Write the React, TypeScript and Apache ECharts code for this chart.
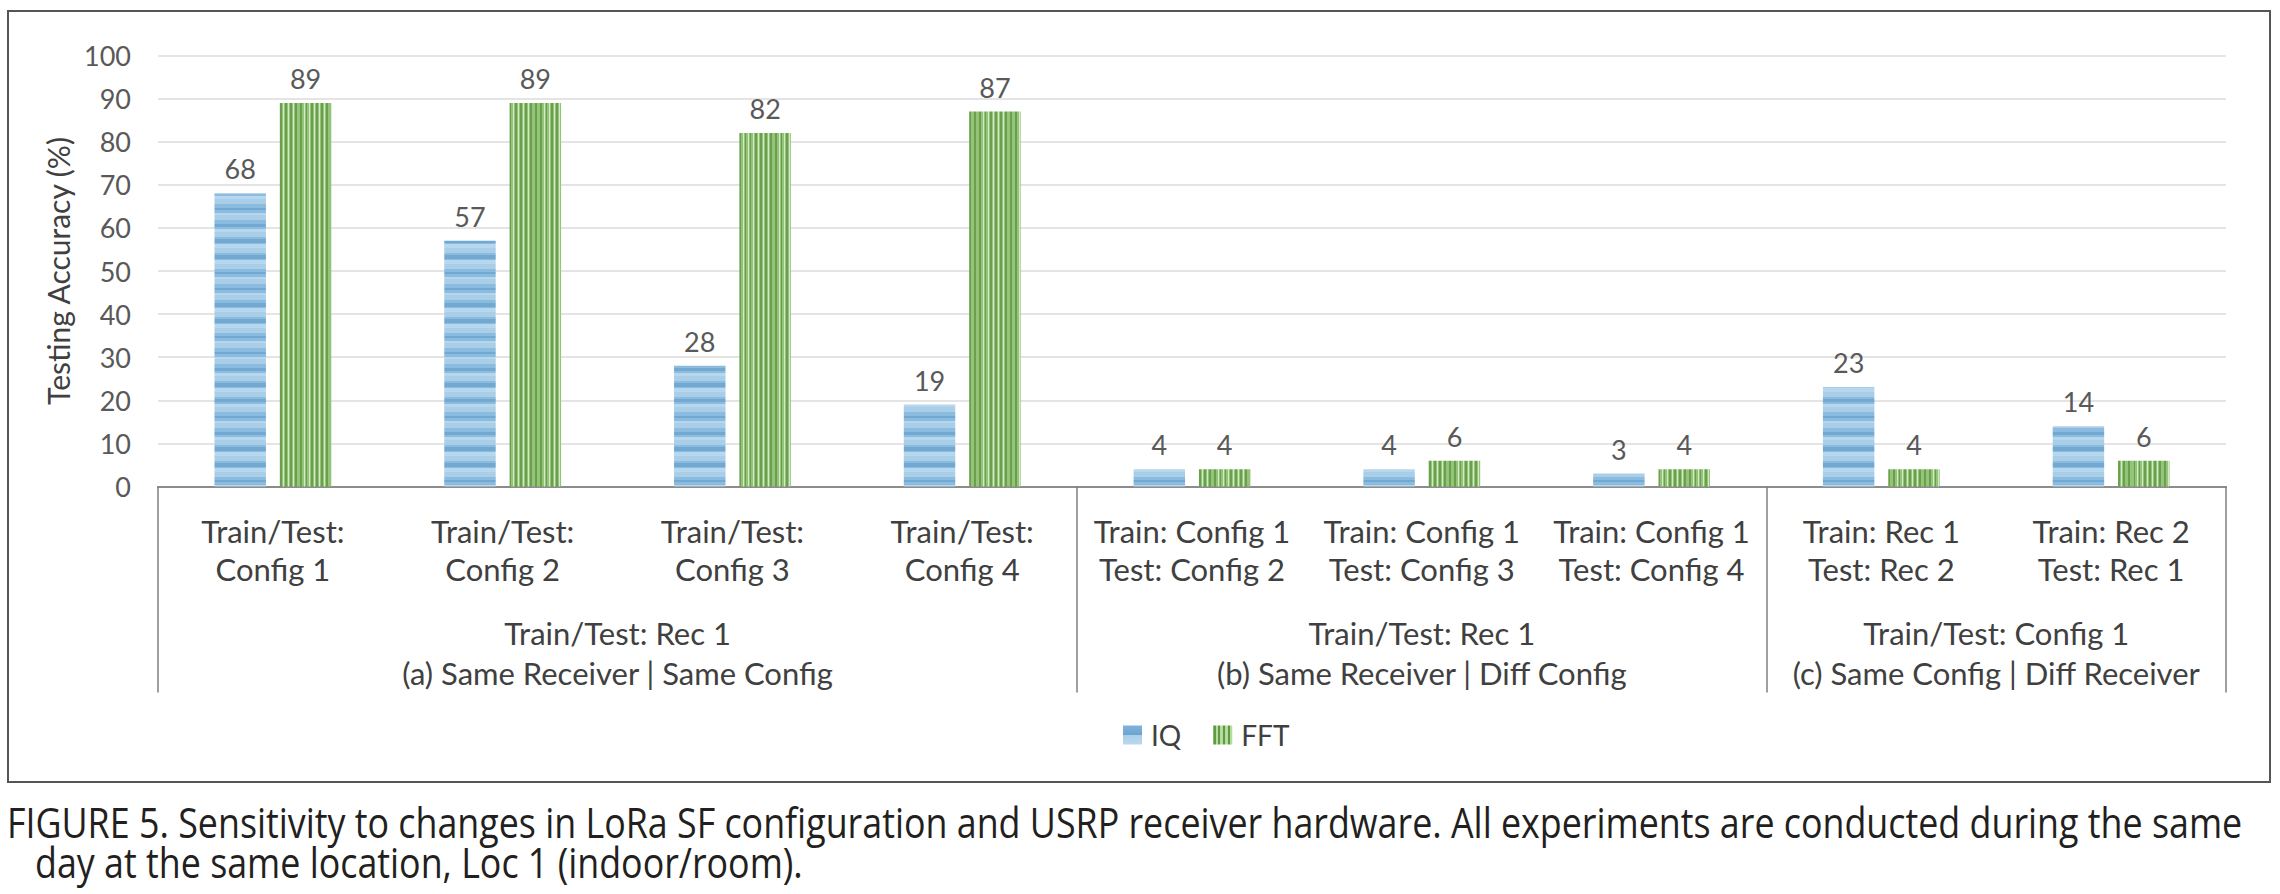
import React, { useEffect, useRef } from "react";
import * as echarts from "echarts";

const categories = [
  "Train/Test:\nConfig 1",
  "Train/Test:\nConfig 2",
  "Train/Test:\nConfig 3",
  "Train/Test:\nConfig 4",
  "Train: Config 1\nTest: Config 2",
  "Train: Config 1\nTest: Config 3",
  "Train: Config 1\nTest: Config 4",
  "Train: Rec 1\nTest: Rec 2",
  "Train: Rec 2\nTest: Rec 1",
];
const iqValues = [68, 57, 28, 19, 4, 4, 3, 23, 14];
const fftValues = [89, 89, 82, 87, 4, 6, 4, 4, 6];
const groupLabels = [
  "Train/Test: Rec 1\n(a) Same Receiver | Same Config",
  "Train/Test: Rec 1\n(b) Same Receiver | Diff Config",
  "Train/Test: Config 1\n(c) Same Config | Diff Receiver",
];
const groupSpans = [4, 3, 2];
const yTicks = { min: 0, max: 100, interval: 10 };
const seriesNames = ["IQ", "FFT"];
const yAxisTitle = "Testing Accuracy (%)";
const captionLine1Fig = "FIGURE 5.";
const captionLine1 =
  " Sensitivity to changes in LoRa SF configuration and USRP receiver hardware. All experiments are conducted during the same";
const captionLine2 = "day at the same location, Loc 1 (indoor/room).";

const FONT = "Lato, 'Open Sans', sans-serif";
const CAP_FONT = "'Open Sans', sans-serif";

function hardStops(pattern: [number, string][], start: number, end: number) {
  const total = end - start;
  const stops: { offset: number; color: string }[] = [];
  let pos = 0;
  while (pos < total) {
    for (const [len, color] of pattern) {
      if (pos >= total) break;
      const a = pos;
      const b = Math.min(pos + len, total);
      stops.push({ offset: a / total, color });
      stops.push({ offset: b / total, color });
      pos += len;
    }
  }
  return stops;
}

export default function App() {
  const ref = useRef<HTMLDivElement>(null);
  useEffect(() => {
    if (!ref.current) return;
    const chart = echarts.init(ref.current, undefined, { renderer: "svg" });

    const gridLeft = 158;
    const gridRight = 2226;
    const gridTop = 55.5;
    const gridBottom = 486.5;

    const iqPattern: [number, string][] = [
      [5, "#a9cfe8"],
      [3, "#8bbbdf"],
      [3, "#72a9d3"],
      [2, "#8bbbdf"],
      [3, "#b6d7ed"],
    ];
    const iqColor = new echarts.graphic.LinearGradient(
      0, gridTop, 0, gridBottom,
      hardStops(iqPattern, gridTop, gridBottom),
      true
    );
    const fftStops: { offset: number; color: string }[] = [];
    const nStripes = 10;
    const fftPat: [number, string][] = [
      [0.35, "#6a9f4c"],
      [0.3, "#93c47a"],
      [0.15, "#d3e9c8"],
      [0.2, "#93c47a"],
    ];
    for (let i = 0; i < nStripes; i++) {
      let p = 0;
      for (const [len, c] of fftPat) {
        fftStops.push({ offset: (i + p) / nStripes, color: c });
        fftStops.push({ offset: Math.min(1, (i + p + len) / nStripes), color: c });
        p += len;
      }
    }
    const fftColor = new echarts.graphic.LinearGradient(0, 0, 1, 0, fftStops, false);
    const iqLegendColor = new echarts.graphic.LinearGradient(0, 0, 0, 1, [
      { offset: 0, color: "#7fb3db" },
      { offset: 0.5, color: "#6aa4d1" },
      { offset: 0.5, color: "#a9cfe8" },
      { offset: 1, color: "#b9d9ee" },
    ]);
    const fftLegendStops: { offset: number; color: string }[] = [];
    for (let i = 0; i < 4; i++) {
      fftLegendStops.push({ offset: i / 4, color: "#5f9a40" });
      fftLegendStops.push({ offset: (i + 0.5) / 4, color: "#5f9a40" });
      fftLegendStops.push({ offset: (i + 0.5) / 4, color: "#b5dba0" });
      fftLegendStops.push({ offset: (i + 1) / 4, color: "#b5dba0" });
    }
    const fftLegendColor = new echarts.graphic.LinearGradient(0, 0, 1, 0, fftLegendStops);

    const bounds: number[] = [0];
    groupSpans.forEach((s) => bounds.push(bounds[bounds.length - 1] + s));
    const centers = groupSpans.map((s, i) => bounds[i] + s / 2);

    const capSize = 42;
    const ctx = document.createElement("canvas").getContext("2d")!;
    ctx.font = `${capSize}px 'Open Sans', sans-serif`;
    const fullW = ctx.measureText(captionLine1Fig + captionLine1).width;
    const capScale = fullW > 0 ? 2237 / fullW : 0.8;

    const labelStyle = {
      show: true,
      position: "top" as const,
      distance: 11,
      fontSize: 27,
      color: "#595959",
      fontFamily: FONT,
    };

    chart.setOption({
      animation: false,
      backgroundColor: "#ffffff",
      grid: {
        left: gridLeft,
        right: 2280 - gridRight,
        top: gridTop,
        bottom: 894 - gridBottom,
        containLabel: false,
      },
      legend: {
        left: 1118,
        top: 716,
        itemWidth: 19,
        itemHeight: 19,
        itemGap: 32,
        icon: "rect",
        textStyle: { fontSize: 28, color: "#404040", fontFamily: FONT, padding: [0, 0, 0, 4] },
        data: [
          { name: seriesNames[0], itemStyle: { color: iqLegendColor } },
          { name: seriesNames[1], itemStyle: { color: fftLegendColor } },
        ],
      },
      xAxis: [
        {
          type: "category",
          data: categories,
          position: "bottom",
          axisLine: { show: true, lineStyle: { color: "#8c8c8c", width: 2 } },
          axisTick: { show: false },
          axisLabel: {
            interval: 0,
            margin: 25,
            fontSize: 31,
            lineHeight: 38,
            color: "#404040",
            fontFamily: FONT,
          },
        },
        {
          type: "value",
          position: "bottom",
          min: 0,
          max: bounds[bounds.length - 1],
          splitLine: { show: false },
          axisLine: { show: false },
          axisTick: {
            show: true,
            customValues: bounds,
            length: 206,
            lineStyle: { color: "#7f7f7f", width: 1.5 },
          },
          axisLabel: {
            customValues: centers,
            margin: 126,
            fontSize: 31,
            lineHeight: 40,
            color: "#404040",
            fontFamily: FONT,
            hideOverlap: false,
            formatter: (v: number) => {
              const i = centers.findIndex((c) => Math.abs(c - v) < 1e-6);
              return i >= 0 ? groupLabels[i] : "";
            },
          },
        },
      ],
      yAxis: {
        type: "value",
        min: yTicks.min,
        max: yTicks.max,
        interval: yTicks.interval,
        name: yAxisTitle,
        nameLocation: "middle",
        nameRotate: 90,
        nameGap: 80,
        nameTextStyle: { fontSize: 30, color: "#404040", fontFamily: FONT },
        axisLine: { show: false },
        axisTick: { show: false },
        axisLabel: { fontSize: 27, color: "#595959", fontFamily: FONT, margin: 27 },
        splitLine: { lineStyle: { color: "#e4e4e4", width: 2 } },
      },
      series: [
        {
          name: seriesNames[0],
          type: "bar",
          xAxisIndex: 0,
          data: iqValues,
          barWidth: "22.4%",
          barGap: "27%",
          itemStyle: { color: iqColor },
          label: labelStyle,
        },
        {
          name: seriesNames[1],
          type: "bar",
          xAxisIndex: 0,
          data: fftValues,
          barWidth: "22.4%",
          barGap: "27%",
          itemStyle: { color: fftColor },
          label: labelStyle,
        },
      ],
      graphic: [
        {
          type: "rect",
          shape: { x: 8, y: 11, width: 2262, height: 771 },
          style: { fill: "none", stroke: "#555555", lineWidth: 2 },
          silent: true,
          z: -1,
        },
        {
          type: "text",
          x: 7,
          y: 821,
          scaleX: capScale,
          style: {
            text: "{f|" + captionLine1Fig + "}" + captionLine1,
            fontSize: capSize,
            fontFamily: CAP_FONT,
            fill: "#231f20",
            verticalAlign: "middle",
            align: "left",
            rich: { f: { fontSize: capSize, fontFamily: CAP_FONT, fill: "#231f20" } },
          },
        },
        {
          type: "text",
          x: 35,
          y: 861,
          scaleX: capScale,
          style: {
            text: captionLine2,
            fontSize: capSize,
            fontFamily: CAP_FONT,
            fill: "#231f20",
            verticalAlign: "middle",
            align: "left",
          },
        },
      ],
    });
    return () => chart.dispose();
  }, []);
  return (
    <div
      ref={ref}
      style={{ position: "fixed", left: 0, top: 0, width: 2280, height: 894, background: "#fff" }}
    />
  );
}
